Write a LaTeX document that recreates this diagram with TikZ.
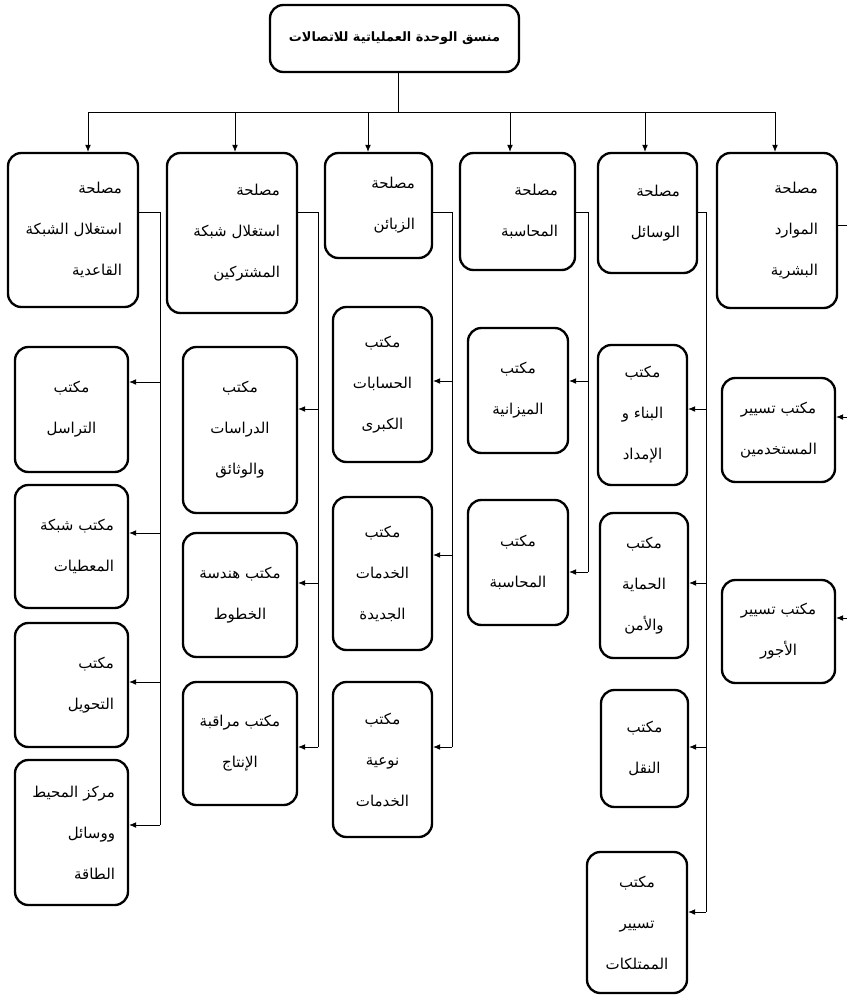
\documentclass[tikz,border=0pt]{standalone}
\usepackage{fontspec}
\usetikzlibrary{arrows.meta}
\newfontfamily\arabicfont[Script=Arabic]{DejaVu Sans}
\TeXXeTstate=1
\newcommand{\rl}[1]{\mbox{\beginR #1\endR}}

\tikzset{
  boxsize/.style 2 args={minimum width=#1*0.03cm, minimum height=#2*0.03cm},
  rtext/.style={align=right, text width=#1*0.03cm},
  box/.style={draw, line width=2pt, rounded corners=0.4cm, inner sep=0pt,
    font=\arabicfont\fontsize{12.8}{35}\selectfont},
  link/.style={line width=0.7pt},
}

\begin{document}
\begin{tikzpicture}[x=0.03cm, y=-0.03cm, >={Latex[length=6pt,width=5pt]}]
    \useasboundingbox (0,0) rectangle (847,996);

    % head
    \node[box, boxsize={249}{67}, font=\arabicfont\bfseries\fontsize{11}{13}\selectfont] (top) at (394.5,38.5)
        {\rl{منسق الوحدة العملياتية للاتصالات}};

    % services
    \node[box, boxsize={130}{154}, rtext=98] (s1) at (73,230)
        {\rl{مصلحة}\\ \rl{استغلال الشبكة}\\ \rl{القاعدية}};
    \node[box, boxsize={130}{160}, rtext=96] (s2) at (232,233)
        {\rl{مصلحة}\\ \rl{استغلال شبكة}\\ \rl{المشتركين}};
    \node[box, boxsize={107}{105}, rtext=73] (s3) at (378.5,205.5)
        {\rl{مصلحة}\\ \rl{الزبائن}};
    \node[box, boxsize={115}{117}, rtext=81] (s4) at (517.5,211.5)
        {\rl{مصلحة}\\ \rl{المحاسبة}};
    \node[box, boxsize={99}{120}, rtext=65] (s5) at (647.5,213)
        {\rl{مصلحة}\\ \rl{الوسائل}};
    \node[box, boxsize={120}{155}, rtext=82] (s6) at (777,230.5)
        {\rl{مصلحة}\\ \rl{الموارد}\\ \rl{البشرية}};

    % offices
    \node[box, boxsize={113}{125}, align=center] (c11) at (71.5,409.5)
        {\rl{مكتب}\\ \rl{التراسل}};
    \node[box, boxsize={113}{123}, rtext=85] (c12) at (71.5,546.5)
        {\rl{مكتب شبكة}\\ \rl{المعطيات}};
    \node[box, boxsize={113}{124}, rtext=85] (c13) at (71.5,685)
        {\rl{مكتب}\\ \rl{التحويل}};
    \node[box, boxsize={113}{145}, rtext=87] (c14) at (71.5,832.5)
        {\rl{مركز المحيط}\\ \rl{ووسائل}\\ \rl{الطاقة}};

    \node[box, boxsize={114}{166}, align=center] (c21) at (240,430)
        {\rl{مكتب}\\ \rl{الدراسات}\\ \rl{والوثائق}};
    \node[box, boxsize={114}{124}, align=center] (c22) at (240,595)
        {\rl{مكتب هندسة}\\ \rl{الخطوط}};
    \node[box, boxsize={114}{123}, align=center] (c23) at (240,743.5)
        {\rl{مكتب مراقبة}\\ \rl{الإنتاج}};

    \node[box, boxsize={99}{155}, align=center] (c31) at (382.5,384.5)
        {\rl{مكتب}\\ \rl{الحسابات}\\ \rl{الكبرى}};
    \node[box, boxsize={99}{153}, align=center] (c32) at (382.5,573.5)
        {\rl{مكتب}\\ \rl{الخدمات}\\ \rl{الجديدة}};
    \node[box, boxsize={99}{155}, align=center] (c33) at (382.5,759.5)
        {\rl{مكتب}\\ \rl{نوعية}\\ \rl{الخدمات}};

    \node[box, boxsize={100}{125}, align=center] (c41) at (518,390.5)
        {\rl{مكتب}\\ \rl{الميزانية}};
    \node[box, boxsize={100}{125}, align=center] (c42) at (518,562.5)
        {\rl{مكتب}\\ \rl{المحاسبة}};

    \node[box, boxsize={89}{140}, align=center] (c51) at (642.5,415)
        {\rl{مكتب}\\ \rl{البناء و}\\ \rl{الإمداد}};
    \node[box, boxsize={88}{145}, align=center] (c52) at (644,585.5)
        {\rl{مكتب}\\ \rl{الحماية}\\ \rl{والأمن}};
    \node[box, boxsize={87}{117}, align=center] (c53) at (644.5,748.5)
        {\rl{مكتب}\\ \rl{النقل}};
    \node[box, boxsize={100}{141}, align=center] (c54) at (637,922.5)
        {\rl{مكتب}\\ \rl{تسيير}\\ \rl{الممتلكات}};

    \node[box, boxsize={113}{104}, align=center] (c61) at (778.5,430)
        {\rl{مكتب تسيير}\\ \rl{المستخدمين}};
    \node[box, boxsize={113}{103}, align=center] (c62) at (778.5,631.5)
        {\rl{مكتب تسيير}\\ \rl{الأجور}};

    % head to services
    \coordinate (hub) at (398,112);
    \draw[link] (top.south -| hub) -- (hub);
    \draw[link] (88,112) -- (775,112);
    \foreach \n/\x in {s1/88, s2/235, s3/368, s4/510, s5/645, s6/775}
        \draw[link, ->] (\x,112) -- (\n.north -| \x,0);

    % services to offices
    \draw[link] (s1.east |- 0,212) -- (160,212) -- (160,825);
    \foreach \n/\y in {c11/382, c12/533, c13/682, c14/825}
        \draw[link, ->] (160,\y) -- (\n.east |- 0,\y);

    \draw[link] (s2.east |- 0,212) -- (318,212) -- (318,747);
    \foreach \n/\y in {c21/409, c22/583, c23/747}
        \draw[link, ->] (318,\y) -- (\n.east |- 0,\y);

    \draw[link] (s3.east |- 0,212) -- (452,212) -- (452,747);
    \foreach \n/\y in {c31/381, c32/555, c33/747}
        \draw[link, ->] (452,\y) -- (\n.east |- 0,\y);

    \draw[link] (s4.east |- 0,212) -- (588,212) -- (588,572);
    \foreach \n/\y in {c41/381, c42/572}
        \draw[link, ->] (588,\y) -- (\n.east |- 0,\y);

    \draw[link] (s5.east |- 0,212) -- (706,212) -- (706,912);
    \foreach \n/\y in {c51/409, c52/583, c53/747, c54/912}
        \draw[link, ->] (706,\y) -- (\n.east |- 0,\y);

    \draw[link] (s6.east |- 0,225) -- (850,225) -- (850,618);
    \foreach \n/\y in {c61/417, c62/618}
        \draw[link, ->] (850,\y) -- (\n.east |- 0,\y);
\end{tikzpicture}
\end{document}
